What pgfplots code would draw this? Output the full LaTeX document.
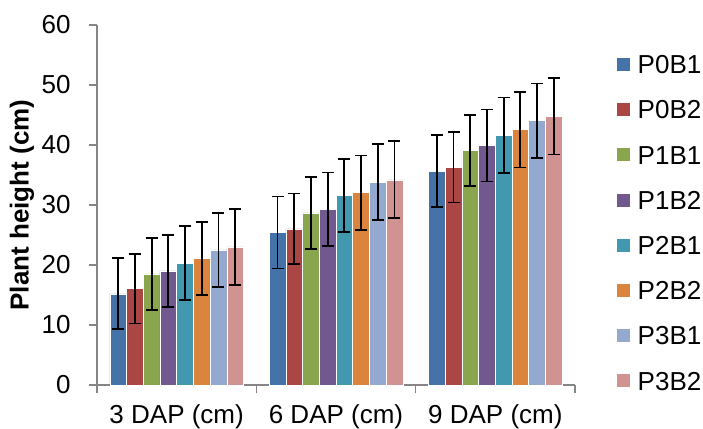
\documentclass[border=0pt]{standalone}
\usepackage{pgfplots}
\pgfplotsset{compat=1.18}
\usepackage{pgfplotstable}
\usepackage{fontspec}
\setmainfont{Liberation Sans}
\definecolor{c1}{HTML}{4572A7}
\definecolor{c2}{HTML}{AA4643}
\definecolor{c3}{HTML}{89A54E}
\definecolor{c4}{HTML}{71588F}
\definecolor{c5}{HTML}{4198AF}
\definecolor{c6}{HTML}{DB843D}
\definecolor{c7}{HTML}{93A9CF}
\definecolor{c8}{HTML}{D19392}
\definecolor{axgray}{HTML}{868686}
\pgfplotstableread{
x y1 e1 y2 e2 y3 e3 y4 e4 y5 e5 y6 e6 y7 e7 y8 e8
0 15.2 5.9 16.05 5.8 18.5 6.0 19.0 6.0 20.3 6.2 21.05 6.1 22.5 6.2 23.0 6.3
1 25.4 6.0 26.0 5.9 28.7 6.0 29.3 6.1 31.55 6.1 32.05 6.2 33.8 6.3 34.2 6.4
2 35.6 6.0 36.3 5.9 39.1 5.95 39.9 6.0 41.6 6.3 42.55 6.3 44.05 6.2 44.8 6.4
}\datatable
\begin{document}
\begin{tikzpicture}[font=\fontsize{26bp}{31bp}\selectfont]
\useasboundingbox (-97bp,-44bp) rectangle (606bp,385bp);
\begin{axis}[
  scale only axis, width=478bp, height=360bp,
  ybar=0pt, bar width=16.7bp,
  xmin=-0.5, xmax=2.5, ymin=0, ymax=60,
  axis lines=left, axis line style={-, draw=axgray, line width=1.3bp},
  xtick={-0.5,0.5,1.5,2.5}, x tick label as interval,
  xticklabels={3 DAP (cm),6 DAP (cm),9 DAP (cm)},
  xticklabel style={yshift=-8bp},
  ytick={0,10,...,60},
  yticklabel style={xshift=-15bp},
  tick align=outside, major tick length=8bp,
  tick style={draw=axgray, line width=1.3bp},
  /pgf/number format/assume math mode=true,
  tick label style={font=\fontsize{26bp}{31bp}\selectfont},
  ylabel={\bfseries Plant height (cm)},
  ylabel style={font=\fontsize{26bp}{31bp}\selectfont,
    at={(axis description cs:-0.157,0.5)}, anchor=center},
  every axis plot/.append style={draw=white, line width=0.5bp,
    error bars/y dir=both, error bars/y explicit,
    error bars/error bar style={black, line width=1.8bp},
    error bars/error mark options={rotate=90, mark size=6bp, line width=1.8bp, black}},
  legend image code/.code={\fill[#1] (0bp,-7bp) rectangle (14bp,7bp);},
  legend cell align=left,
  legend style={at={(axis description cs:1,1)}, anchor=north west,
    xshift=41bp, yshift=-29.5bp, draw=none, fill=none, inner sep=0pt,
    row sep=26.2bp, column sep=7bp,
    nodes={inner sep=0pt, text height=19bp, text depth=0bp},
    font=\fontsize{26bp}{31bp}\selectfont},
]
\addplot[fill=c1] table[x=x, y=y1, y error=e1] {\datatable};
\addplot[fill=c2] table[x=x, y=y2, y error=e2] {\datatable};
\addplot[fill=c3] table[x=x, y=y3, y error=e3] {\datatable};
\addplot[fill=c4] table[x=x, y=y4, y error=e4] {\datatable};
\addplot[fill=c5] table[x=x, y=y5, y error=e5] {\datatable};
\addplot[fill=c6] table[x=x, y=y6, y error=e6] {\datatable};
\addplot[fill=c7] table[x=x, y=y7, y error=e7] {\datatable};
\addplot[fill=c8] table[x=x, y=y8, y error=e8] {\datatable};
\legend{P0B1,P0B2,P1B1,P1B2,P2B1,P2B2,P3B1,P3B2}
\end{axis}
\end{tikzpicture}
\end{document}
